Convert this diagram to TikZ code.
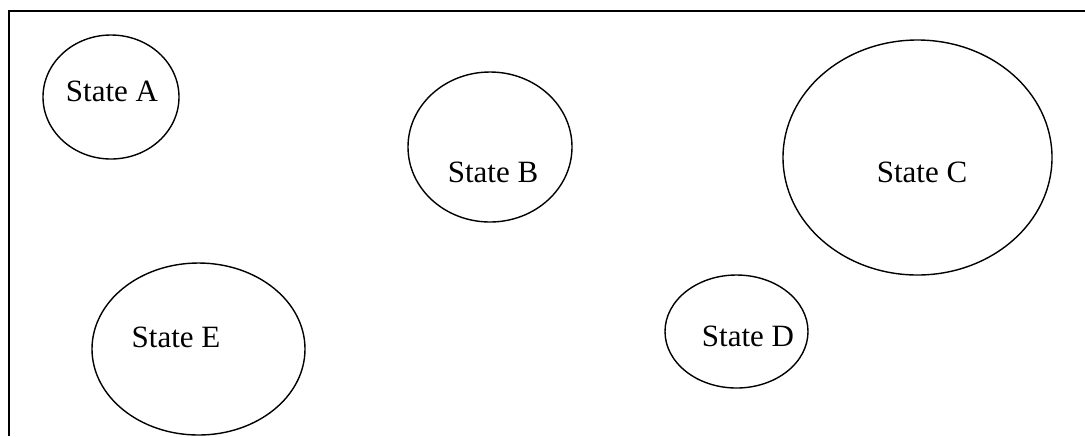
\documentclass[tikz,border=0pt]{standalone}
\usepackage{fontspec}
\setmainfont{Liberation Serif}
\usetikzlibrary{shapes.geometric}

\begin{document}
\begin{tikzpicture}[x=0.5pt,y=-0.5pt,
    stateshape/.style={draw,ellipse,line width=0.7pt,inner sep=0pt,outer sep=0pt},
    statelabel/.style={inner sep=0pt,font=\fontsize{15.5}{18}\selectfont}]
\useasboundingbox (0,0) rectangle (1085,436);
% frame (only top and left edges show)
\coordinate (fr) at (1085,11);
\coordinate (fc) at (9,11);
\coordinate (fb) at (9,436);
\draw[line width=1pt] (fr) -- (fc) -- (fb);
% states
\node[stateshape,minimum width=68pt,minimum height=62pt] (sA) at (111,97) {};
\node[stateshape,minimum width=82pt,minimum height=75pt] (sB) at (490,147) {};
\node[stateshape,minimum width=134.5pt,minimum height=117.5pt] (sC) at (917.5,157.5) {};
\node[stateshape,minimum width=71.5pt,minimum height=56.5pt] (sD) at (736.5,331.5) {};
\node[stateshape,minimum width=106.5pt,minimum height=86pt] (sE) at (198.5,349) {};
\node[statelabel] (tA) at (112,91) {State A};
\node[statelabel] (tB) at (493,172) {State B};
\node[statelabel] (tC) at (922,172) {State C};
\node[statelabel] (tD) at (748,336) {State D};
\node[statelabel] (tE) at (176,337) {State E};
\end{tikzpicture}
\end{document}
